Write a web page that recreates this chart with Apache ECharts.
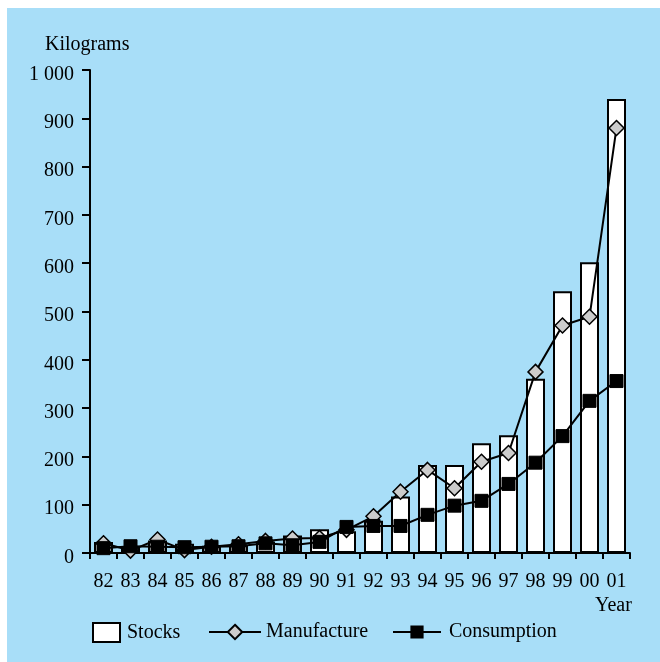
<!DOCTYPE html>
<html><head><meta charset="utf-8">
<script src="https://cdn.jsdelivr.net/npm/echarts@6/dist/echarts.min.js"></script>
<style>html,body{margin:0;padding:0;background:#fff;}#c{position:absolute;left:7px;top:8px;width:653px;height:654px;background:#a8def8;}</style>
</head><body><div id="c"></div>
<script>
const years = ['82','83','84','85','86','87','88','89','90','91','92','93','94','95','96','97','98','99','00','01'];
const stocks = [23,13,26,19,15,16,24,36,49,45,67,117,182,182,227,244,361,542,602,940];
const manufacture = [20,5,28,6,13,18,25,30,31,48,76,127,172,134,189,207,375,471,489,880];
const consumption = [10,14,13,12,13,14,20,16,23,54,56,56,79,98,108,143,187,242,315,356];
const yTicks = [0,100,200,300,400,500,600,700,800,900,1000];

const chart = echarts.init(document.getElementById('c'));
const font = 'Liberation Serif';
const fs = 20;
const legendText = {fontFamily: font, fontSize: fs, color: '#000'};
chart.setOption({
  animation: false,
  textStyle: {fontFamily: font, color: '#000'},
  grid: {left: 83, right: 30, top: 62, bottom: 109, containLabel: false},
  graphic: [
    {type: 'text', left: 38, top: 27, style: {text: 'Kilograms', font: fs + 'px "Liberation Serif"', fill: '#000'}},
    {type: 'text', left: 588, top: 588, style: {text: 'Year', font: fs + 'px "Liberation Serif"', fill: '#000'}}
  ],
  legend: [
    {data: [{name: 'Stocks', icon: 'rect'}], left: 85, top: 614, padding: 0, itemWidth: 27, itemHeight: 19,
     textStyle: Object.assign({padding: [0,0,0,2]}, legendText)},
    {data: ['Manufacture'], left: 201, top: 614, padding: 0, itemWidth: 52, itemHeight: 18,
     textStyle: legendText},
    {data: ['Consumption'], left: 385, top: 614, padding: 0, itemWidth: 48, itemHeight: 14,
     textStyle: Object.assign({padding: [0,0,0,3]}, legendText)}
  ],
  xAxis: {
    type: 'category', data: years, boundaryGap: true,
    axisLine: {lineStyle: {color: '#000', width: 2}},
    axisTick: {show: true, inside: false, length: 6, lineStyle: {color: '#000', width: 2}},
    axisLabel: {fontFamily: font, fontSize: fs, color: '#000', margin: 19, interval: 0},
    splitLine: {show: false}
  },
  yAxis: {
    type: 'value', min: 0, max: 1000, interval: 100,
    axisLine: {show: true, lineStyle: {color: '#000', width: 2}},
    axisTick: {show: true, length: 8, lineStyle: {color: '#000', width: 2}},
    axisLabel: {fontFamily: font, fontSize: fs, color: '#000', margin: 16, verticalAlign: 'top', lineHeight: 9,
      formatter: v => v >= 1000 ? (Math.floor(v/1000) + ' ' + String(v%1000).padStart(3,'0')) : String(v)},
    splitLine: {show: false}
  },
  series: [
    {name: 'Stocks', type: 'bar', data: stocks, barWidth: 19,
     itemStyle: {color: '#fff', borderColor: '#000', borderWidth: 2}},
    {name: 'Manufacture', type: 'line', data: manufacture, symbol: 'diamond', symbolSize: 15,
     lineStyle: {color: '#000', width: 2}, itemStyle: {color: '#cccccc', borderColor: '#000', borderWidth: 1.5}},
    {name: 'Consumption', type: 'line', data: consumption, symbol: 'rect', symbolSize: 13,
     lineStyle: {color: '#000', width: 2}, itemStyle: {color: '#000', borderColor: '#000', borderWidth: 1}}
  ]
});
</script></body></html>
